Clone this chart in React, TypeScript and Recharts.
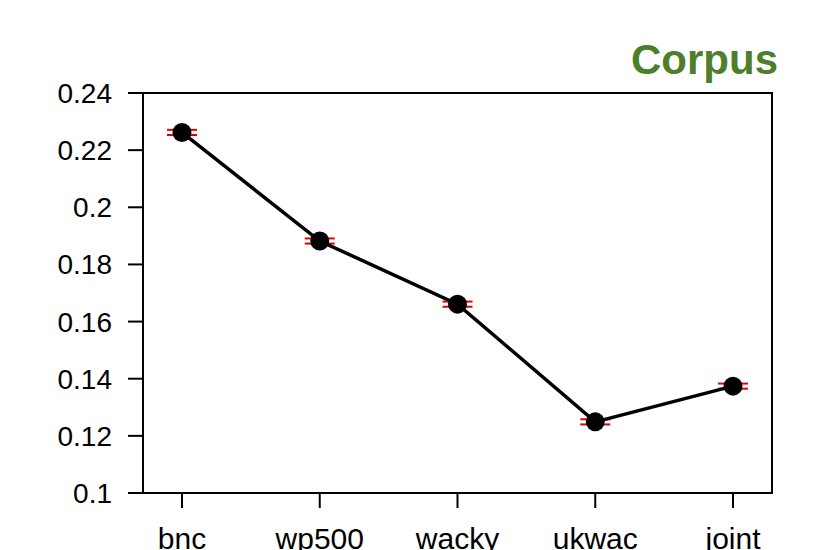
import React from "react";
import {
  LineChart,
  Line,
  XAxis,
  YAxis,
  ErrorBar,
  ReferenceArea,
} from "recharts";

const categories = ["bnc", "wp500", "wacky", "ukwac", "joint"];
const meanValues = [0.2262, 0.1882, 0.1661, 0.1249, 0.1374];
const errValues = [0.0009, 0.0009, 0.0009, 0.0009, 0.0009];
const yTicks = [0.1, 0.12, 0.14, 0.16, 0.18, 0.2, 0.22, 0.24];
const xTicks = [1, 2, 3, 4, 5];

const data = categories.map((name, i) => ({
  x: i + 1,
  name,
  value: meanValues[i],
  err: errValues[i],
}));

const FONT = "'Liberation Sans', Arial, Helvetica, sans-serif";
const W = 818;
const H = 550;

export default function App() {
  return (
    <div style={{ position: "absolute", left: 0, top: 0, width: W, height: H, background: "#fff" }}>
      <LineChart
        width={W}
        height={H}
        data={data}
        margin={{ top: 93, right: 46, bottom: 0, left: 0 }}
      >
        <XAxis
          dataKey="x"
          type="number"
          domain={[0.717, 5.283]}
          ticks={xTicks}
          allowDataOverflow
          height={57}
          tickSize={15}
          tickMargin={20}
          interval={0}
          stroke="#000"
          strokeWidth={2}
          tickFormatter={(v: number) => categories[v - 1] ?? ""}
          tick={{ fontSize: 30, fill: "#000", fontFamily: FONT }}
        />
        <YAxis
          type="number"
          domain={[0.1, 0.24]}
          ticks={yTicks}
          allowDataOverflow
          width={143}
          tickSize={15}
          tickMargin={16}
          interval={0}
          stroke="#000"
          strokeWidth={2}
          tickFormatter={(v: number) => String(+v.toFixed(2))}
          tick={{ fontSize: 28, fill: "#000", fontFamily: FONT }}
        />
        <ReferenceArea
          x1={0.717}
          x2={5.283}
          y1={0.1}
          y2={0.24}
          fill="none"
          stroke="#000"
          strokeWidth={2}
          ifOverflow="visible"
        />
        <Line
          dataKey="value"
          stroke="#000"
          strokeWidth={3.5}
          dot={false}
          activeDot={false}
          isAnimationActive={false}
        >
          <ErrorBar dataKey="err" direction="y" width={15} stroke="#e00000" strokeWidth={2} />
        </Line>
        <Line
          dataKey="value"
          stroke="none"
          strokeWidth={0}
          dot={{ r: 9.5, fill: "#000", stroke: "#000", strokeWidth: 0 }}
          activeDot={false}
          isAnimationActive={false}
        />
      </LineChart>
      <svg
        width={W}
        height={H}
        style={{ position: "absolute", left: 0, top: 0, pointerEvents: "none" }}
      >
        <text
          x={778}
          y={74}
          textAnchor="end"
          fontFamily={FONT}
          fontWeight="bold"
          fontSize={42}
          fill="#4d7e2a"
        >
          Corpus
        </text>
      </svg>
    </div>
  );
}
